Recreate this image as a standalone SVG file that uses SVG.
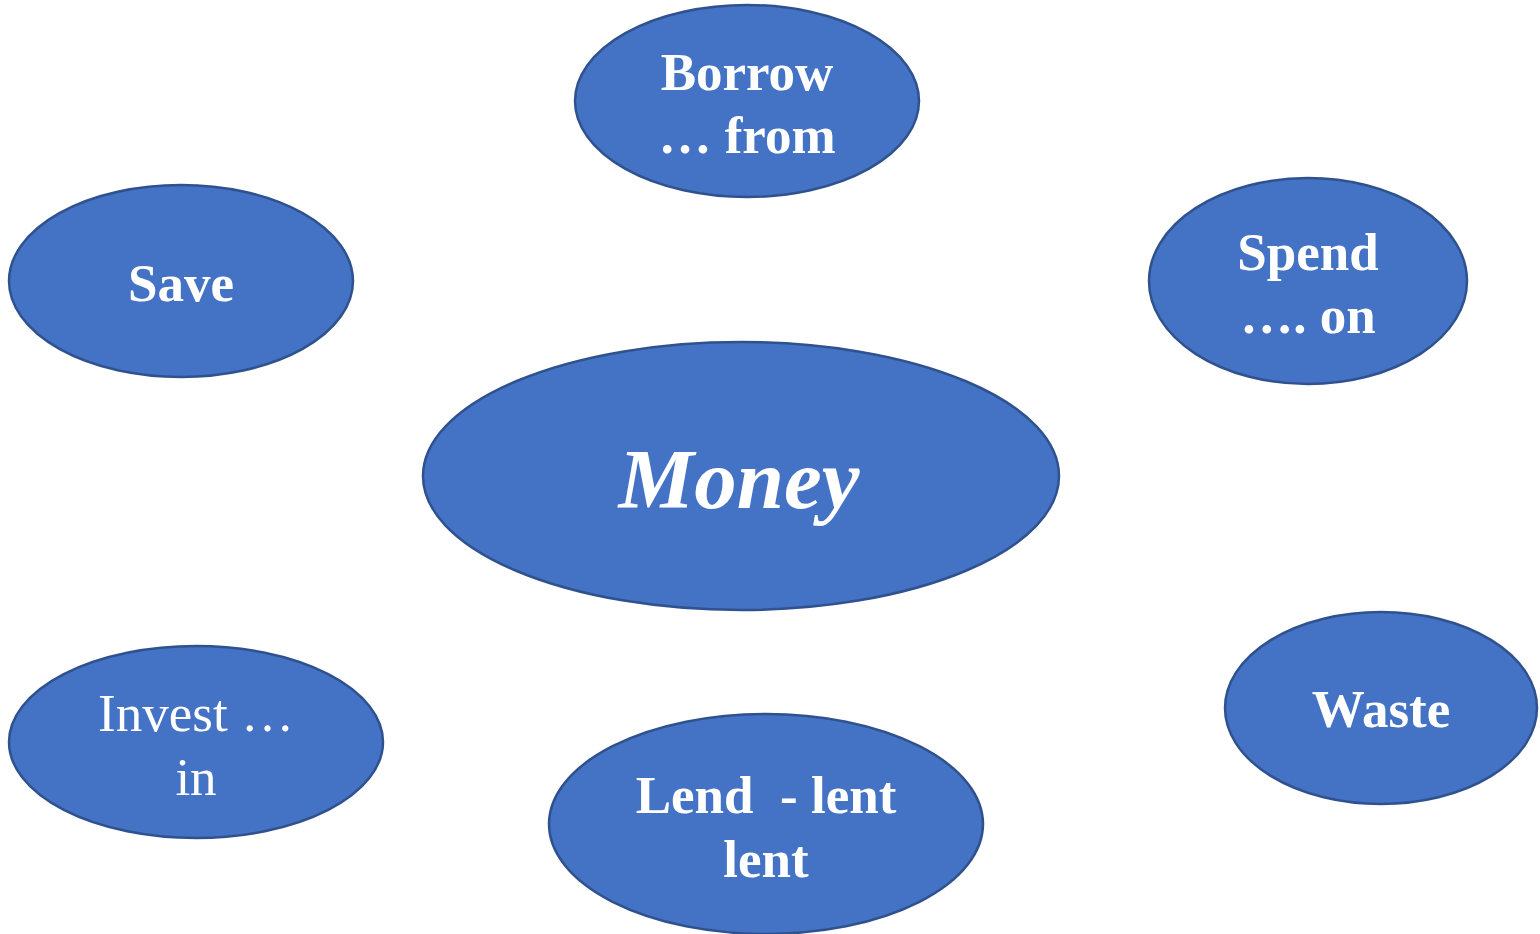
<svg xmlns="http://www.w3.org/2000/svg" width="1540" height="934" viewBox="0 0 1540 934">
<style>
.n{fill:#4472C4;stroke:#2F528F;stroke-width:2.5}
.t{font-family:"Liberation Serif","Times New Roman",serif;font-size:53px;font-weight:bold;fill:#fff;text-anchor:middle}
.r{font-weight:normal}
.m{font-size:85px;font-style:italic}
</style>
<rect width="1540" height="934" fill="#fff"/>
<g id="connectors"></g>
<g id="borrow"><ellipse class="n" cx="747" cy="101" rx="172" ry="96"/><text class="t" x="747" y="90">Borrow</text><text class="t" x="747" y="153">… from</text></g>
<g id="save"><ellipse class="n" cx="181" cy="281" rx="172" ry="96"/><text class="t" x="181" y="301">Save</text></g>
<g id="spend"><ellipse class="n" cx="1308" cy="281" rx="159" ry="103"/><text class="t" x="1308" y="270">Spend</text><text class="t" x="1308" y="333">…. on</text></g>
<g id="money"><ellipse class="n" cx="741" cy="476" rx="318" ry="134"/><text class="t m" x="739" y="508">Money</text></g>
<g id="invest"><ellipse class="n" cx="196" cy="742" rx="187" ry="96"/><text class="t r" x="196" y="731">Invest …</text><text class="t r" x="196" y="795">in</text></g>
<g id="lend"><ellipse class="n" cx="766" cy="824" rx="217" ry="110"/><text class="t" x="766" y="813" xml:space="preserve">Lend  - lent</text><text class="t" x="766" y="877">lent</text></g>
<g id="waste"><ellipse class="n" cx="1381" cy="708" rx="156" ry="96"/><text class="t" x="1381" y="727">Waste</text></g>
</svg>
